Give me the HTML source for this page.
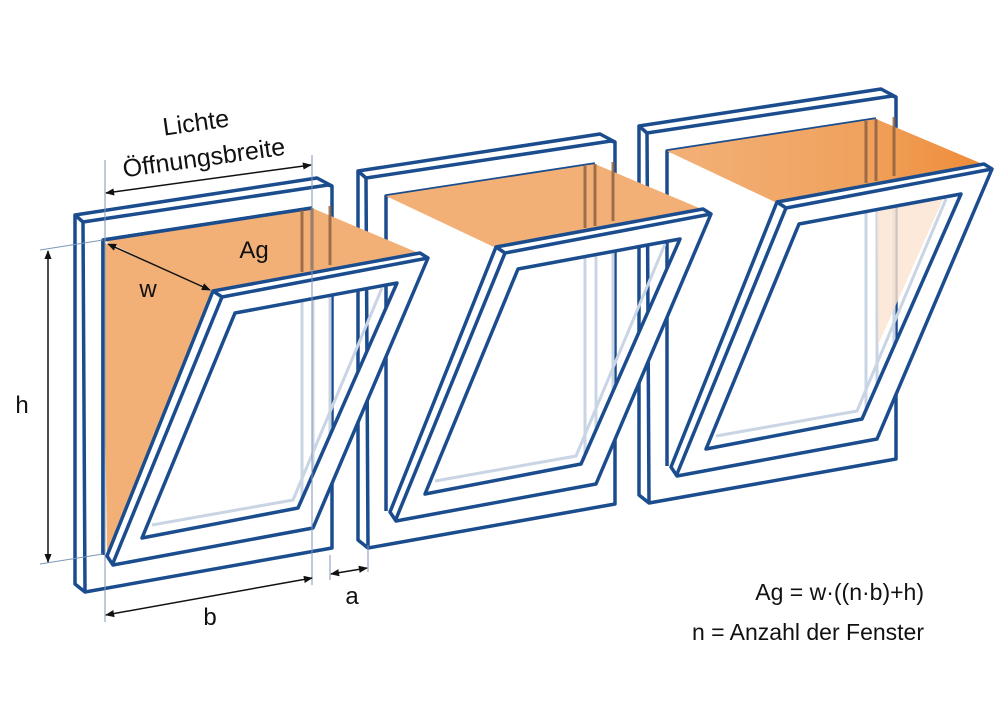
<!DOCTYPE html>
<html><head><meta charset="utf-8"><style>
html,body{margin:0;padding:0;background:#fff;}
svg{display:block;}
text{font-family:"Liberation Sans","DejaVu Sans",sans-serif;fill:#111;}
</style></head><body>
<svg width="1000" height="707" viewBox="0 0 1000 707" xmlns="http://www.w3.org/2000/svg">
<defs>
<marker id="ar" viewBox="0 0 10 10" refX="9" refY="5" markerWidth="9" markerHeight="9" orient="auto-start-reverse" markerUnits="userSpaceOnUse"><path d="M0,1 L10,5 L0,9 z" fill="#111"/></marker>
<linearGradient id="og3" x1="0" y1="0" x2="1" y2="0"><stop offset="0" stop-color="#f2b077"/><stop offset="0.6" stop-color="#f0a25e"/><stop offset="1" stop-color="#ee8a34"/></linearGradient>
<g id="frame" fill="#fff" stroke="#1b4d8e" stroke-width="3.5" stroke-linejoin="round">
  <polygon points="75,215 317,178 332,186 332,548 85,592 75,584"/>
  <polyline fill="none" points="75,215 83,222 328,185 332,186"/>
  <line x1="83" y1="222" x2="85" y2="592"/>
  <polyline fill="none" points="103,555 103,240 312,208"/>
</g>
<g id="glass" fill="none" stroke="#c9d4e4" stroke-width="3">
  <line x1="302" y1="272" x2="302" y2="500"/>
  <line x1="313" y1="272" x2="313" y2="490"/>
  <line x1="330" y1="272" x2="330" y2="440"/>
  <polyline points="382,288 293,500 152,525"/>
</g>
<g id="sash" stroke="#1b4d8e" stroke-width="3.5" stroke-linejoin="round">
  <path fill="#fff" fill-rule="evenodd" d="M213,291 L420,253 L428,258 L313,528 L113,565 L107,556 Z M235,313 L397,283 L298,508 L142,538 Z"/>
  <polyline fill="none" points="213,291 222,297 428,258"/>
  <line x1="222" y1="297" x2="113" y2="563"/>
</g>
<g id="darklines" stroke="#8a5e3e" stroke-width="3" opacity="0.8">
  <line x1="302" y1="210" x2="302" y2="272"/>
  <line x1="312" y1="208" x2="312" y2="270"/>
  <line x1="330" y1="206" x2="330" y2="265"/>
</g>
</defs>

<use href="#frame" transform="translate(564,-89)"/>
<use href="#frame" transform="translate(283,-44)"/>
<use href="#frame"/>

<g transform="translate(564,-89)">
  <use href="#glass"/>
  <polygon points="313,294 381,284 314,434" fill="#fbe3cf" opacity="0.8"/>
  <polygon points="103,240 312,208 428,257 213,292" fill="url(#og3)"/>
  <use href="#darklines"/>
  <use href="#sash"/>
</g>
<g transform="translate(283,-44)">
  <use href="#glass"/>
  <polygon points="103,240 312,208 428,257 213,292" fill="#f2b077"/>
  <use href="#darklines"/>
  <use href="#sash"/>
</g>
<g>
  <use href="#glass"/>
  <polygon points="103,240 312,208 428,257 213,292" fill="#f2b077"/>
  <polygon points="103,242 213,292 107,555" fill="#f2b077"/>
  <line x1="103" y1="240" x2="103" y2="555" stroke="#1b4d8e" stroke-width="3.5"/>
  <line x1="103" y1="240" x2="312" y2="208" stroke="#1b4d8e" stroke-width="3.5"/>
  <use href="#darklines"/>
  <use href="#sash"/>
</g>

<g stroke="#7f97b8" stroke-width="1">
  <line x1="105" y1="160" x2="105" y2="622"/>
  <line x1="312" y1="155" x2="312" y2="585"/>
  <line x1="330" y1="555" x2="330" y2="580"/>
  <line x1="368" y1="545" x2="368" y2="572"/>
  <line x1="40" y1="250" x2="103" y2="240"/>
  <line x1="40" y1="564" x2="103" y2="554"/>
</g>
<g stroke="#111" stroke-width="1.5" fill="none">
  <line x1="106" y1="193" x2="311" y2="165" marker-start="url(#ar)" marker-end="url(#ar)"/>
  <line x1="48" y1="251" x2="48" y2="562" marker-start="url(#ar)" marker-end="url(#ar)"/>
  <line x1="106" y1="615" x2="312" y2="578" marker-start="url(#ar)" marker-end="url(#ar)"/>
  <line x1="331" y1="574" x2="367" y2="568" marker-start="url(#ar)" marker-end="url(#ar)"/>
  <line x1="108" y1="244" x2="210" y2="290" marker-start="url(#ar)" marker-end="url(#ar)"/>
</g>

<text x="197" y="131" font-size="25" text-anchor="middle" transform="rotate(-8 197 131)">Lichte</text>
<text x="205" y="166" font-size="25" text-anchor="middle" transform="rotate(-8 205 166)">Öffnungsbreite</text>
<text x="254" y="258" font-size="24" text-anchor="middle">Ag</text>
<text x="148" y="297" font-size="24" text-anchor="middle">w</text>
<text x="22" y="413" font-size="24" text-anchor="middle">h</text>
<text x="210" y="625" font-size="24" text-anchor="middle">b</text>
<text x="352" y="604" font-size="24" text-anchor="middle">a</text>
<text x="924" y="600" font-size="23" text-anchor="end">Ag = w·((n·b)+h)</text>
<text x="924" y="640" font-size="23" text-anchor="end">n = Anzahl der Fenster</text>
</svg>
</body></html>
